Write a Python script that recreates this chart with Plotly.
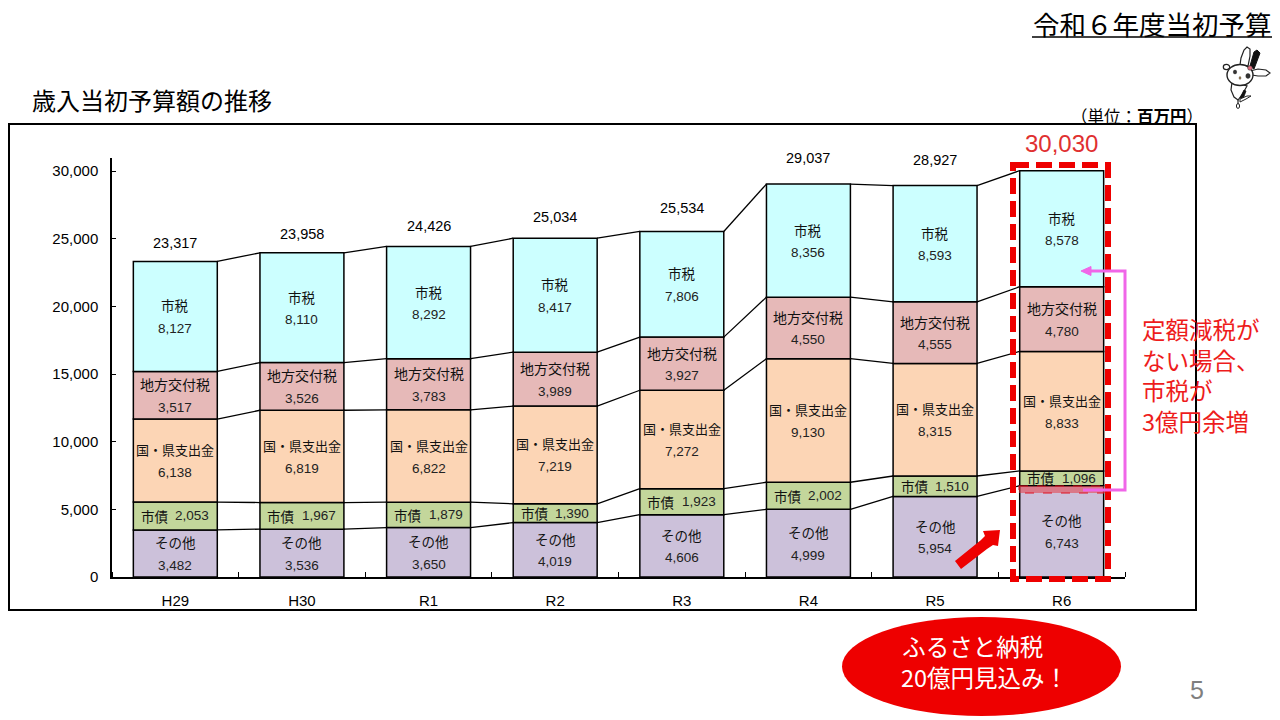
import plotly.graph_objects as go

years = ["H29", "H30", "R1", "R2", "R3", "R4", "R5", "R6"]
sonota = [3482, 3536, 3650, 4019, 4606, 4999, 5954, 6743]
shisai = [2053, 1967, 1879, 1390, 1923, 2002, 1510, 1096]
kuniken = [6138, 6819, 6822, 7219, 7272, 9130, 8315, 8833]
chihou = [3517, 3526, 3783, 3989, 3927, 4550, 4555, 4780]
shizei = [8127, 8110, 8292, 8417, 7806, 8356, 8593, 8578]
totals = [23317, 23958, 24426, 25034, 25534, 29037, 28927, 30030]
y_ticks = [0, 5000, 10000, 15000, 20000, 25000, 30000]
series_names = ["その他", "市債", "国・県支出金", "地方交付税", "市税"]
series_values = [sonota, shisai, kuniken, chihou, shizei]
series_colors = ["#ccc1da", "#c3d69b", "#fcd5b5", "#e6b9b8", "#ccffff"]

W, H = 1280, 720
JP = "Noto Sans CJK JP"
NUM = "Liberation Sans, Noto Sans CJK JP"
BAR_W = 0.663


def px(x):
    return x / W


def py(y):
    return 1 - y / H


xs = list(range(len(years)))
fig = go.Figure()

bases = [0] * len(years)
cumulative = []
for vals, color, name in zip(series_values, series_colors, series_names):
    fig.add_bar(x=xs, y=vals, base=bases, width=BAR_W, name=name,
                marker=dict(color=color, line=dict(color="#000000", width=1.5)),
                hoverinfo="skip")
    bases = [b + v for b, v in zip(bases, vals)]
    cumulative.append(bases)

# connector lines between neighbouring bars
for tops in cumulative:
    cx, cy = [], []
    for i in range(len(xs) - 1):
        cx += [xs[i] + BAR_W / 2, xs[i + 1] - BAR_W / 2, None]
        cy += [tops[i], tops[i + 1], None]
    fig.add_scatter(x=cx, y=cy, mode="lines", line=dict(color="#000000", width=1.3),
                    hoverinfo="skip")

ann = []


def text(x, y, s, size, color="#000000", anchor="center", font=JP, align="center"):
    ann.append(dict(xref="paper", yref="paper", x=px(x), y=py(y), text=s, showarrow=False,
                    xanchor=anchor, yanchor="middle", align=align,
                    font=dict(family=font, size=size, color=color)))


# labels inside the segments
name_sizes = {"その他": 13.5, "市債": 13.5, "国・県支出金": 13, "地方交付税": 14, "市税": 13.5}
lower = [0] * len(years)
for name, vals in zip(series_names, series_values):
    for i, v in enumerate(vals):
        mid = lower[i] + v / 2
        if name == "市債":
            ann.append(dict(x=i, y=mid, text=f"{name}", showarrow=False, xshift=-21,
                            font=dict(family=JP, size=13.5, color="#111111")))
            ann.append(dict(x=i, y=mid, text=f"{v:,}", showarrow=False, xshift=17,
                            font=dict(family=NUM, size=13.5, color="#222222")))
        else:
            ann.append(dict(x=i, y=mid, text=name, showarrow=False, yshift=11,
                            font=dict(family=JP, size=name_sizes[name], color="#111111")))
            ann.append(dict(x=i, y=mid, text=f"{v:,}", showarrow=False, yshift=-12,
                            font=dict(family=NUM, size=13.5, color="#222222")))
    lower = [a + b for a, b in zip(lower, vals)]

# totals above the bars
total_shift = [18, 19, 20, 21, 23, 26, 26, 27]
for i, t in enumerate(totals):
    last = i == len(totals) - 1
    ann.append(dict(x=i, y=t, text=f"{t:,}", showarrow=False, yshift=total_shift[i],
                    font=dict(family=NUM, size=24 if last else 14.5,
                              color="#e03030" if last else "#000000")))

text(1152, 23, "令和６年度当初予算", 26.5)
text(30, 100, "歳入当初予算額の推移", 24, anchor="left")
text(1137, 116, "（単位：<b>百万円</b>）", 16.5)
text(1140, 375, "定額減税が<br>ない場合、<br>市税が<br>3億円余増", 23.5, color="#ee1c1c",
     anchor="left", align="left")
text(984, 661, "ふるさと納税　<br>20億円見込み！", 23.5, color="#ffffff")
text(1197, 690, "5", 25, color="#7f7f7f", font="Liberation Sans Narrow, Liberation Sans")

RED = "#ee0000"
PINK = "#f066e8"


def rect(x0, y0, x1, y1, **kw):
    return dict(type="rect", xref="paper", yref="paper", x0=px(x0), x1=px(x1),
                y0=py(y0), y1=py(y1), **kw)


def line(x0, y0, x1, y1, color="#000000", width=1.5, dash="solid"):
    return dict(type="line", xref="paper", yref="paper", x0=px(x0), x1=px(x1), y0=py(y0), y1=py(y1),
                line=dict(color=color, width=width, dash=dash))


def pixel_path(points, close=True, **kw):
    d = "M" + " L".join(f"{px(a):.5f},{py(b):.5f}" for a, b in points) + (" Z" if close else "")
    return dict(type="path", xref="paper", yref="paper", path=d, **kw)


def blob(cx, cy, rx, ry, fill, lw=1.4):
    return dict(type="circle", xref="paper", yref="paper", x0=px(cx - rx), x1=px(cx + rx),
                y0=py(cy - ry), y1=py(cy + ry), fillcolor=fill,
                line=dict(color="#222222", width=lw))


shapes = [
    rect(9, 124, 1196, 610, line=dict(color="#000000", width=2), layer="below"),
    line(1032, 37, 1272, 37, width=1.5),
    # budget shortfall band and highlight box on R6
    rect(1019, 486, 1104, 493, fillcolor="rgba(230,60,70,0.55)",
         line=dict(color="#e01020", width=1, dash="dash")),
    rect(1013, 165, 1108, 579, line=dict(color=RED, width=6, dash="16px,7px")),
    # pink bracket arrow
    pixel_path([(1090, 271), (1125, 271), (1125, 490), (1083, 490)], close=False,
               line=dict(color=PINK, width=3)),
    pixel_path([(1081, 271), (1091, 266.5), (1091, 275.5)], fillcolor=PINK,
               line=dict(color=PINK, width=1)),
    # red block arrow
    pixel_path([(955, 561), (961, 569), (987, 549), (993, 545), (998, 546), (1000, 530), (983, 531),
                (985, 536), (981, 540)],
               fillcolor=RED, line=dict(color=RED, width=0)),
    # red oval
    dict(type="circle", xref="paper", yref="paper", x0=px(842), x1=px(1121), y0=py(617), y1=py(716),
         fillcolor=RED, line=dict(color=RED, width=0), layer="below"),
    # mascot: ear, hat, body, leg, foot
    pixel_path([(1240, 65), (1241, 58), (1244, 50), (1247, 47), (1250, 49), (1250, 56), (1248, 66)],
               fillcolor="#ffffff", line=dict(color="#222222", width=1.2)),
    pixel_path([(1250, 66), (1254, 52), (1257, 50), (1260, 53), (1254, 69)],
               fillcolor="#111111", line=dict(color="#111111", width=1)),
    pixel_path([(1232, 82), (1231, 90), (1234, 97), (1238, 100), (1242, 95), (1247, 86)],
               fillcolor="#ffffff", line=dict(color="#222222", width=1.2)),
    pixel_path([(1240, 98), (1244, 90), (1246, 91), (1243, 99)],
               fillcolor="#111111", line=dict(color="#111111", width=0.8)),
    pixel_path([(1240, 99), (1247, 96), (1251, 96), (1246, 99), (1240, 102)],
               fillcolor="#ffffff", line=dict(color="#222222", width=1)),
    blob(1238, 106, 1.6, 2.4, "#ffffff", 1),
    pixel_path([(1238, 100), (1238, 104)], close=False, line=dict(color="#222222", width=1.2)),
    pixel_path([(1229, 68), (1234, 72)], close=False, line=dict(color="#222222", width=1.2)),
    blob(1226.5, 67, 3.2, 2.6, "#ffffff", 1.2),
    pixel_path([(1250, 71), (1258, 69), (1266, 70), (1270, 73), (1266, 76), (1258, 76), (1252, 75)],
               fillcolor="#ffffff", line=dict(color="#222222", width=1.2)),
    blob(1240, 75, 13, 10.5, "#ffffff"),
    blob(1235, 72, 1.7, 1.9, "#333333", 0.5),
    blob(1248, 76, 2.2, 2.4, "#333333", 0.5),
    blob(1240, 78, 1, 1.4, "#a08050", 0.3),
    blob(1250, 68, 2.4, 2.2, "#e07080", 0.5),
]

fig.update_layout(
    width=W, height=H, autosize=False,
    margin=dict(l=0, r=0, t=0, b=0, pad=0, autoexpand=False),
    paper_bgcolor="#ffffff", plot_bgcolor="#ffffff",
    barmode="overlay", showlegend=False,
    annotations=ann, shapes=shapes,
    xaxis=dict(domain=[px(112), px(1125)], range=[-0.5, 7.5], tickmode="array",
               tickvals=xs, ticktext=years, ticks="", showgrid=False, zeroline=False,
               showline=True, linecolor="#000000", linewidth=1.5,
               ticklabelstandoff=9, automargin=False,
               tickfont=dict(family="Liberation Sans", size=15, color="#000000"),
               minor=dict(tickmode="array", tickvals=[i - 0.5 for i in range(9)], ticks="inside",
                          ticklen=5, tickcolor="#000000", tickwidth=1.2, showgrid=False)),
    yaxis=dict(domain=[py(577), py(157.5)], range=[0, 31000], tickmode="array",
               tickvals=y_ticks, ticktext=[f"{v:,}" for v in y_ticks],
               ticks="inside", ticklen=4, tickcolor="#000000", tickwidth=1.2,
               showgrid=False, zeroline=False, showline=True, linecolor="#000000", linewidth=1.5,
               ticklabelstandoff=9, automargin=False,
               tickfont=dict(family="Liberation Sans", size=15, color="#000000")),
)

fig.write_html("out.html", post_script="document.body.style.margin='0';",
               config=dict(displayModeBar=False))
